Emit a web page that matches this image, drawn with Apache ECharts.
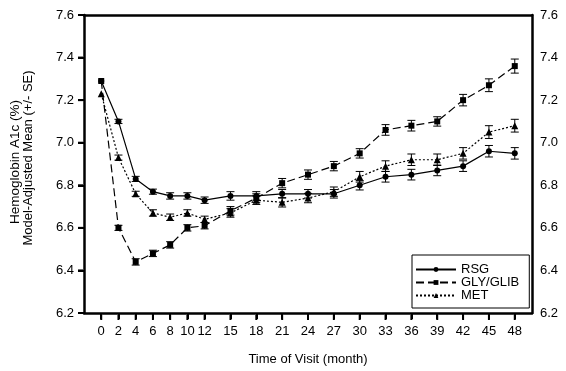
<!DOCTYPE html>
<html>
<head>
<meta charset="utf-8">
<script src="https://cdn.jsdelivr.net/npm/echarts@6/dist/echarts.min.js"></script>
<style>html,body{margin:0;padding:0;background:#fff}#c{width:566px;height:371px}</style>
</head>
<body>
<div id="c"></div>
<script>
const months = [0, 2, 4, 6, 8, 10, 12, 15, 18, 21, 24, 27, 30, 33, 36, 39, 42, 45, 48];
const xTickValues = [0, 2, 4, 6, 8, 10, 12, 15, 18, 21, 24, 27, 30, 33, 36, 39, 42, 45, 48];
const yTicks = [6.2, 6.4, 6.6, 6.8, 7.0, 7.2, 7.4, 7.6];
const rsg = [7.29, 7.10, 6.83, 6.77, 6.75, 6.75, 6.73, 6.75, 6.75, 6.76, 6.76, 6.76, 6.80, 6.84, 6.85, 6.87, 6.89, 6.96, 6.95];
const gly = [7.29, 6.60, 6.44, 6.48, 6.52, 6.60, 6.61, 6.68, 6.74, 6.81, 6.85, 6.89, 6.95, 7.06, 7.08, 7.10, 7.20, 7.27, 7.36];
const met = [7.23, 6.93, 6.76, 6.67, 6.65, 6.67, 6.64, 6.67, 6.73, 6.72, 6.74, 6.77, 6.84, 6.89, 6.92, 6.92, 6.95, 7.05, 7.08];
const rsgSE = [0, 0.010, 0.012, 0.012, 0.015, 0.015, 0.015, 0.020, 0.020, 0.020, 0.020, 0.020, 0.022, 0.025, 0.025, 0.025, 0.025, 0.027, 0.027];
const glySE = [0, 0.012, 0.015, 0.015, 0.015, 0.015, 0.015, 0.020, 0.020, 0.022, 0.022, 0.022, 0.022, 0.025, 0.025, 0.022, 0.027, 0.030, 0.033];
const metSE = [0, 0.012, 0.012, 0.015, 0.015, 0.015, 0.015, 0.020, 0.020, 0.022, 0.022, 0.022, 0.025, 0.025, 0.027, 0.027, 0.027, 0.030, 0.030];
const seriesNames = ['RSG', 'GLY/GLIB', 'MET'];

const FONT = 'Liberation Sans, Arial, sans-serif';
const X_MIN = -2, X_MAX = 50, Y_MIN = 6.2, Y_MAX = 7.6;
const chart = echarts.init(document.getElementById('c'), null, {renderer: 'canvas'});

function pairs(vals) { return months.map((m, i) => [m, vals[i]]); }
function errData(vals, se) {
  return months.map((m, i) => [m, vals[i] - se[i], vals[i] + se[i]]);
}
function errRender(params, api) {
  const x = api.value(0), lo = api.value(1), hi = api.value(2);
  if (hi - lo < 1e-6) return null;
  const p1 = api.coord([x, lo]), p2 = api.coord([x, hi]);
  const hw = 4;
  const st = {stroke: '#000', lineWidth: 1};
  return {type: 'group', children: [
    {type: 'line', shape: {x1: p1[0], y1: p1[1], x2: p2[0], y2: p2[1]}, style: st},
    {type: 'line', shape: {x1: p1[0] - hw, y1: p1[1], x2: p1[0] + hw, y2: p1[1]}, style: st},
    {type: 'line', shape: {x1: p2[0] - hw, y1: p2[1], x2: p2[0] + hw, y2: p2[1]}, style: st}
  ]};
}
function errSeries(vals, se) {
  return {type: 'custom', renderItem: errRender, data: errData(vals, se), encode: {x: 0, y: [1, 2]}, silent: true, z: 1};
}
function lineSeries(name, vals, symbol, size, dash) {
  return {
    name: name, type: 'line', data: pairs(vals), symbol: symbol, symbolSize: size,
    lineStyle: {color: '#000', width: 1.2, type: dash},
    itemStyle: {color: '#000'}, z: 3, animation: false
  };
}
const xTickData = xTickValues.map(v => [v, Y_MIN]);
const yTickData = yTicks.map(v => [X_MIN, v]);
function xTickRender(params, api) {
  const p = api.coord([api.value(0), api.value(1)]);
  return {type: 'rect', shape: {x: p[0] - 1, y: p[1] + 2, width: 2, height: 5}, style: {fill: '#000'}};
}
function yTickRender(params, api) {
  const p = api.coord([api.value(0), api.value(1)]);
  return {type: 'rect', shape: {x: p[0] - 6, y: p[1] - 1, width: 5, height: 2}, style: {fill: '#000'}};
}
const axisLineStyle = {show: true, onZero: false, lineStyle: {color: '#000', width: 2.5}};

chart.setOption({
  animation: false,
  backgroundColor: '#fff',
  textStyle: {fontFamily: FONT, color: '#000'},
  grid: {left: 84, right: 34, top: 15, bottom: 55, show: false},
  legend: {
    data: seriesNames, orient: 'vertical', left: 412, top: 255,
    backgroundColor: '#fff', borderColor: '#000', borderWidth: 1,
    padding: [8, 10, 6, 3], itemWidth: 40, itemHeight: 6, itemGap: 0,
    textStyle: {fontFamily: FONT, fontSize: 13, color: '#000', lineHeight: 12, height: 12}
  },
  xAxis: [{
    type: 'value', min: X_MIN, max: X_MAX, position: 'bottom',
    name: 'Time of Visit (month)', nameLocation: 'middle', nameGap: 40,
    nameTextStyle: {fontFamily: FONT, fontSize: 13, color: '#000'},
    axisLine: axisLineStyle,
    splitLine: {show: false},
    axisTick: {show: true, inside: false, length: 6, customValues: xTickValues, lineStyle: {color: '#000', width: 2}},
    axisLabel: {customValues: xTickValues, margin: 12, fontFamily: FONT, fontSize: 13, color: '#000'}
  }, {
    type: 'value', min: X_MIN, max: X_MAX, position: 'top',
    axisLine: axisLineStyle, splitLine: {show: false}, axisTick: {show: false}, axisLabel: {show: false}
  }],
  yAxis: [{
    type: 'value', min: Y_MIN, max: Y_MAX, interval: 0.2, position: 'left',
    axisLine: axisLineStyle, splitLine: {show: false},
    axisTick: {show: true, inside: false, length: 6, lineStyle: {color: '#000', width: 2}},
    axisLabel: {margin: 10, fontFamily: FONT, fontSize: 13, color: '#000', formatter: v => v.toFixed(1)}
  }, {
    type: 'value', min: Y_MIN, max: Y_MAX, interval: 0.2, position: 'right',
    axisLine: axisLineStyle, splitLine: {show: false}, axisTick: {show: false},
    axisLabel: {margin: 8, fontFamily: FONT, fontSize: 13, color: '#000', formatter: v => v.toFixed(1)}
  }],
  graphic: [
    {type: 'text', x: 15, y: 162, rotation: Math.PI / 2, style: {text: 'Hemoglobin A1c (%)', font: '13.5px ' + FONT, fill: '#000', align: 'center', verticalAlign: 'middle'}},
    {type: 'text', x: 28, y: 158, rotation: Math.PI / 2, style: {text: 'Model-Adjusted Mean (+/- SE)', font: '13px ' + FONT, fill: '#000', align: 'center', verticalAlign: 'middle'}}
  ],
  series: [
    {type: 'custom', renderItem: xTickRender, data: xTickData, clip: false, silent: true, z: 10},
    {type: 'custom', renderItem: yTickRender, data: yTickData, clip: false, silent: true, z: 10},
    errSeries(rsg, rsgSE),
    errSeries(gly, glySE),
    errSeries(met, metSE),
    lineSeries('RSG', rsg, 'circle', 6, 'solid'),
    lineSeries('GLY/GLIB', gly, 'rect', 6, [8, 4]),
    lineSeries('MET', met, 'triangle', 7, [2, 2])
  ]
});
</script>
</body>
</html>
